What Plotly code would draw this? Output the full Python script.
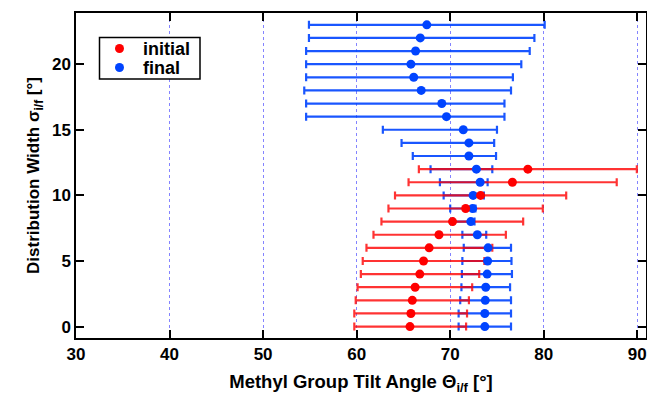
import plotly.graph_objects as go

# Final (blue) data: rows sigma = 0..23
final_sigma = list(range(24))
final_center = [73.7, 73.7, 73.75, 73.8, 73.95, 74.0, 74.05, 72.9, 72.2, 72.4, 72.45, 73.2,
                72.8, 72.0, 72.0, 71.4, 69.6, 69.1, 66.9, 66.1, 65.8, 66.3, 66.8, 67.5]
final_low = [70.9, 70.9, 71.07, 71.2, 71.25, 71.3, 71.45, 71.3, 70.3, 70.0, 69.3, 68.9,
             67.9, 66.0, 64.8, 62.8, 54.6, 54.6, 54.4, 54.6, 54.6, 54.6, 54.9, 54.9]
final_high = [76.5, 76.5, 76.5, 76.4, 76.6, 76.55, 76.5, 73.85, 72.6, 72.7, 73.6, 74.0,
              74.5, 74.9, 74.7, 75.0, 75.8, 75.8, 76.5, 76.7, 77.6, 78.5, 79.0, 80.1]

# Initial (red) data: rows sigma = 0..12
init_sigma = list(range(13))
init_center = [65.7, 65.8, 65.95, 66.25, 66.75, 67.15, 67.75, 68.8, 70.25, 71.65, 73.25, 76.65, 78.3]
init_low = [59.75, 59.75, 59.9, 60.1, 60.45, 60.65, 61.05, 61.8, 62.65, 63.4, 64.1, 65.55, 66.65]
init_high = [71.7, 71.8, 72.0, 72.35, 73.1, 73.65, 74.5, 75.95, 77.8, 79.9, 82.4, 87.8, 89.95]

series_names = ["initial", "final"]

RED = "#ff0000"
BLUE = "#0044ff"

def errs(c, lo, hi):
    return [h - v for v, h in zip(c, hi)], [v - l for v, l in zip(c, lo)]

fp, fm = errs(final_center, final_low, final_high)
ip, im = errs(init_center, init_low, init_high)

fig = go.Figure()
fig.add_trace(go.Scatter(x=final_center, y=final_sigma, mode="markers", showlegend=False,
                         marker=dict(size=1, color="rgba(0,0,0,0)"),
                         error_x=dict(type="data", array=fp, arrayminus=fm, color="rgba(0,68,255,0.9)",
                                      thickness=2.2, width=4), hoverinfo="skip"))
fig.add_trace(go.Scatter(x=init_center, y=init_sigma, mode="markers", showlegend=False,
                         marker=dict(size=1, color="rgba(0,0,0,0)"),
                         error_x=dict(type="data", array=ip, arrayminus=im, color="rgba(255,0,0,0.8)",
                                      thickness=2.2, width=4), hoverinfo="skip"))
fig.add_trace(go.Scatter(x=final_center, y=final_sigma, mode="markers", name=series_names[1],
                         showlegend=False, marker=dict(size=9, color=BLUE)))
fig.add_trace(go.Scatter(x=init_center, y=init_sigma, mode="markers", name=series_names[0],
                         showlegend=False, marker=dict(size=9, color=RED)))

FAM = "Liberation Sans, Arial, sans-serif"
tfont = dict(family=FAM, size=17, color="black", weight="bold")
xtitfont = dict(family=FAM, size=18.5, color="black", weight="bold")
ytitfont = dict(family=FAM, size=17, color="black", weight="bold")
legfont = dict(family=FAM, size=18, color="black", weight="bold")

# Hand-built legend box (paper coordinates of plot area)
L, R, T, B = 76, 646, 13, 338
def px(x):
    return (x - L) / (R - L)
def py(y):
    return (B - y) / (B - T)

shapes = [dict(type="rect", xref="paper", yref="paper", x0=px(99.5), x1=px(200), y0=py(79), y1=py(37.5),
               line=dict(color="black", width=1.5), fillcolor="white", layer="above")]
annotations = []
for name, col, yy in [(series_names[0], RED, 48.5), (series_names[1], BLUE, 67.5)]:
    shapes.append(dict(type="circle", xref="paper", yref="paper", xsizemode="pixel", ysizemode="pixel",
                       xanchor=px(119.5), yanchor=py(yy), x0=-4.5, x1=4.5, y0=-4.5, y1=4.5,
                       fillcolor=col, line=dict(width=0), layer="above"))
    annotations.append(dict(text=name, xref="paper", yref="paper", x=px(140.5), y=py(yy + 0.5),
                            xanchor="left", yanchor="middle", showarrow=False, font=legfont))

fig.update_layout(
    width=647, height=396,
    margin=dict(l=76, r=1, t=13, b=58),
    paper_bgcolor="white", plot_bgcolor="white",
    font=tfont, showlegend=False,
    shapes=shapes, annotations=annotations,
    xaxis=dict(range=[30, 90.93], tickvals=[30, 40, 50, 60, 70, 80, 90],
               showline=True, linecolor="black", linewidth=1.5, mirror="ticks",
               ticks="inside", ticklen=8, tickwidth=1.5, tickcolor="black",
               showgrid=True, gridcolor="rgba(80,80,255,0.7)", griddash="dot", gridwidth=1,
               zeroline=False, tickfont=tfont, automargin=False,
               title=dict(text="Methyl Group Tilt Angle Θ<sub>i/f</sub> [°]", font=xtitfont, standoff=12)),
    yaxis=dict(range=[-0.87, 23.9], tickvals=[0, 5, 10, 15, 20],
               showline=True, linecolor="black", linewidth=1.5, mirror="ticks",
               ticks="inside", ticklen=8, tickwidth=1.5, tickcolor="black",
               showgrid=False, zeroline=False, tickfont=tfont, automargin=False,
               title=dict(text="Distribution Width σ<sub>i/f</sub> [°]", font=ytitfont, standoff=8)),
)

fig.write_html("out.html", config={"displayModeBar": False},
               post_script="document.body.style.margin='0';document.body.style.padding='0';")
